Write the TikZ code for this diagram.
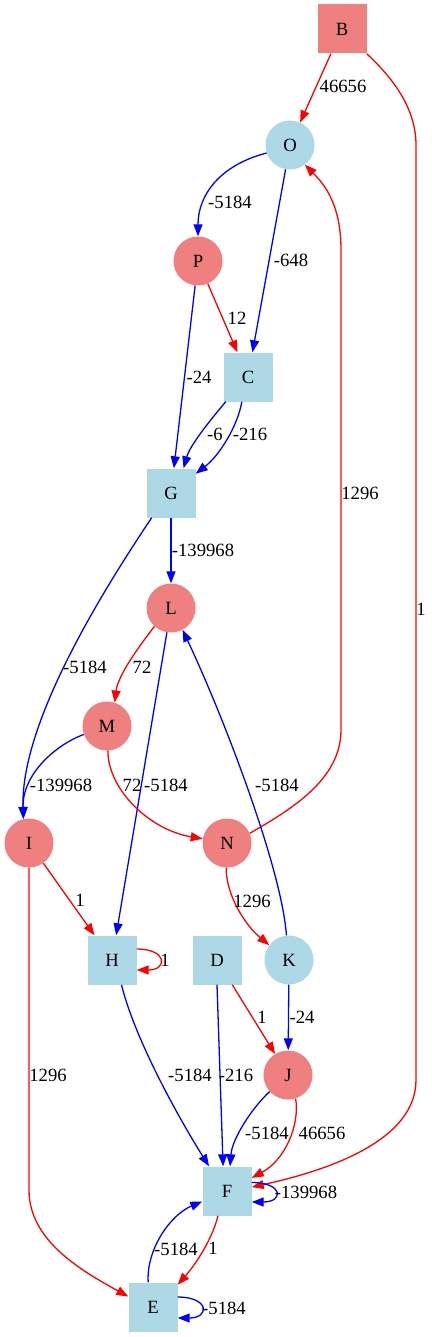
\documentclass[tikz,border=0pt]{standalone}
\usepackage{fontspec}
\setmainfont{Liberation Serif}
\usetikzlibrary{arrows.meta}
\definecolor{nodered}{HTML}{F08080}
\definecolor{nodeblue}{HTML}{ADD8E6}
\begin{document}
\begin{tikzpicture}[x=1pt,y=-1pt,
  font=\fontsize{18.67}{22}\selectfont,
  sq/.style={rectangle, minimum width=49pt, minimum height=49pt, inner sep=0pt},
  cir/.style={circle, minimum size=49pt, inner sep=0pt},
  rn/.style={fill=nodered},
  bn/.style={fill=nodeblue},
  re/.style={draw=red, line width=1.3pt, -{Triangle[length=12pt,width=9pt]}},
  be/.style={draw=blue, line width=1.3pt, -{Triangle[length=12pt,width=9pt]}},
  lbl/.style={inner sep=0pt}]
\useasboundingbox (0,0) rectangle (431,1337);
% nodes
\node[sq,rn] (B) at (342,29) {B};
\node[cir,bn] (O) at (290,145) {O};
\node[cir,rn] (P) at (198,261) {P};
\node[sq,bn] (C) at (248,377) {C};
\node[sq,bn] (G) at (171,493) {G};
\node[cir,rn] (L) at (171,608) {L};
\node[cir,rn] (M) at (107,726) {M};
\node[cir,rn] (I) at (29,843) {I};
\node[cir,rn] (N) at (227,843) {N};
\node[sq,bn] (H) at (112,960) {H};
\node[sq,bn] (D) at (217,960) {D};
\node[cir,bn] (K) at (289,960) {K};
\node[cir,rn] (J) at (288,1075) {J};
\node[sq,bn] (F) at (227,1191) {F};
\node[sq,bn] (E) at (153,1307) {E};
% edges
\draw[re] (B) -- (O);
\draw[re] (B.south east) .. controls (395,80) and (416,110) .. (416,145) -- (416,1080) .. controls (416,1140) and (330,1170) .. (F.9);
\draw[re] (N.23) .. controls (290,810) and (341,780) .. (341,730) -- (341,250) .. controls (341,205) and (325,185) .. (O.-53);
\draw[be] (O.199) .. controls (220,165) and (198,195) .. (P.north);
\draw[be] (O) -- (C);
\draw[re] (P) -- (C);
\draw[be] (P) -- (G);
\draw[be] (C.-132) .. controls (212,418) and (190,445) .. (G.63);
\draw[be] (C.-104) .. controls (238,425) and (220,455) .. (G.38);
\draw[be] (G) -- (L);
\draw[be] (G.-128) .. controls (110,580) and (20,720) .. (I.103);
\draw[re] (L.-132) .. controls (140,645) and (118,675) .. (M.72);
\draw[be] (L) -- (H);
\draw[be] (K.96) .. controls (282,870) and (225,720) .. (L.-62);
\draw[be] (M.200) .. controls (55,745) and (22,775) .. (I.103);
\draw[re] (M.-88) .. controls (108,790) and (150,830) .. (N.170);
\draw[re] (N.-92) .. controls (226,895) and (245,925) .. (K.143);
\draw[be] (K) -- (J);
\draw[re] (D) -- (J);
\draw[be] (D.-90) -- (F.99);
\draw[re] (I) -- (H);
\draw[re] (H.24) .. controls +(31,0) and +(31,0) .. (H.-22);
\draw[be] (H.-69) .. controls (135,1040) and (180,1120) .. (F.126);
\draw[be] (J.222) .. controls (250,1110) and (232,1140) .. (F.83);
\draw[re] (J.-72) .. controls (300,1125) and (285,1160) .. (F.28);
\draw[be] (F.19) .. controls +(32,0) and +(32,0) .. (F.-24);
\draw[re] (F.-110) .. controls (212,1240) and (195,1265) .. (E.42);
\draw[be] (E.101) .. controls (146,1250) and (170,1215) .. (F.203);
\draw[re] (I.-90) -- (29,1190) .. controls (29,1240) and (80,1270) .. (E.157);
\draw[be] (E.22) .. controls +(32,0) and +(32,0) .. (E.-24);
% labels
\node[lbl] (l1) at (343,86) {46656};
\node[lbl] (l2) at (421,609) {1};
\node[lbl] (l3) at (360,493) {1296};
\node[lbl] (l4) at (230,202) {-5184};
\node[lbl] (l5) at (291,260) {-648};
\node[lbl] (l6) at (237,318) {12};
\node[lbl] (l7) at (199,377) {-24};
\node[lbl] (l8) at (215,434) {-6};
\node[lbl] (l9) at (250,434) {-216};
\node[lbl] (l10) at (203,550) {-139968};
\node[lbl] (l11) at (85,667) {-5184};
\node[lbl] (l12) at (142,667) {72};
\node[lbl] (l13) at (61,785) {-139968};
\node[lbl] (l14) at (132,785) {72};
\node[lbl] (l15) at (166,785) {-5184};
\node[lbl] (l16) at (277,785) {-5184};
\node[lbl] (l17) at (252,901) {1296};
\node[lbl] (l18) at (80,900) {1};
\node[lbl] (l19) at (165,960) {1};
\node[lbl] (l20) at (302,1017) {-24};
\node[lbl] (l21) at (262,1017) {1};
\node[lbl] (l22) at (48,1075) {1296};
\node[lbl] (l23) at (190,1075) {-5184};
\node[lbl] (l24) at (236,1075) {-216};
\node[lbl] (l25) at (267,1133) {-5184};
\node[lbl] (l26) at (322,1133) {46656};
\node[lbl] (l27) at (306,1192) {-139968};
\node[lbl] (l28) at (213,1248) {1};
\node[lbl] (l29) at (176,1249) {-5184};
\node[lbl] (l30) at (224,1308) {-5184};
\end{tikzpicture}
\end{document}
